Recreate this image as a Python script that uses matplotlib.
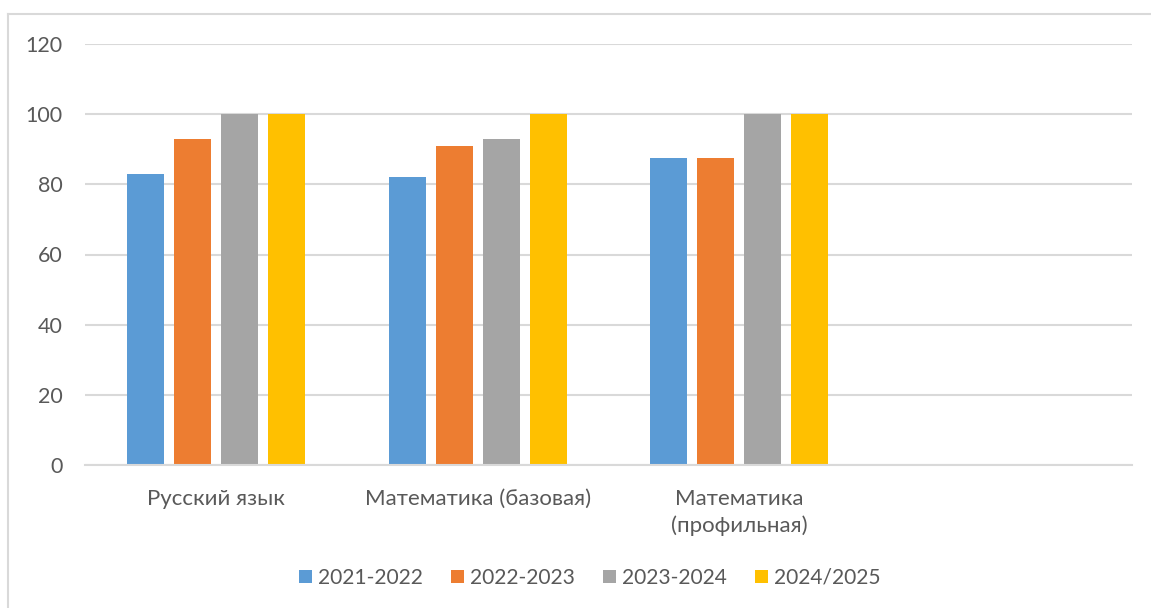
import matplotlib
matplotlib.use("Agg")
import matplotlib.pyplot as plt
import numpy as np
from matplotlib.lines import Line2D
from matplotlib.patches import Patch

categories = ['Русский язык', 'Математика (базовая)', 'Математика\n(профильная)', '']
series_names = ['2021-2022', '2022-2023', '2023-2024', '2024/2025']
v2021 = [83, 82, 87.5]
v2022 = [93, 91, 87.5]
v2023 = [100, 93, 100]
v2024 = [100, 100, 100]
yticks = [0, 20, 40, 60, 80, 100, 120]

colors = ['#5B9BD5', '#ED7D31', '#A5A5A5', '#FFC000']
series = [v2021, v2022, v2023, v2024]

plt.rcParams['font.family'] = ['Lato', 'DejaVu Sans']
W, H = 1151, 608
fig = plt.figure(figsize=(W / 100, H / 100), dpi=100)
ax = fig.add_axes([85 / W, 1 - 465 / H, (1132 - 85) / W, (465 - 44) / H])

bw = 0.141
step = 0.1794
x = np.arange(len(v2021))
for i, (vals, c, name) in enumerate(zip(series, colors, series_names)):
    ax.bar(x + (i - 1.5) * step, vals, width=bw, color=c, label=name, zorder=3)

ax.set_xlim(-0.5, len(categories) - 0.5)
ax.set_ylim(0, 120)
ax.set_yticks(yticks)
ax.set_xticks(np.arange(len(categories)))
ax.set_xticklabels(categories, linespacing=1.4, fontsize=16)
ax.yaxis.grid(True, color='#D9D9D9', linewidth=1.5, zorder=0)
ax.tick_params(axis='both', length=0, colors='#595959')
ax.tick_params(axis='y', labelsize=15.5, pad=16)
ax.tick_params(axis='x', pad=17)
for s in ['top', 'right', 'left']:
    ax.spines[s].set_visible(False)
ax.spines['bottom'].set_color('#D9D9D9')
ax.spines['bottom'].set_linewidth(1.5)
ax.spines['bottom'].set_zorder(4)

handles = [Patch(facecolor=c, edgecolor='none') for c in colors]
leg = fig.legend(handles, series_names, loc='center', bbox_to_anchor=(590 / W, 1 - 578 / H),
                 ncol=4, frameon=False, fontsize=15.1, handlelength=0.6, handleheight=0.6,
                 handletextpad=0.3, columnspacing=1.35, labelcolor='#595959')

# chart border
fig.add_artist(Line2D([8 / W, 1.0], [1 - 14 / H, 1 - 14 / H], color='#D9D9D9', linewidth=1.5,
                      transform=fig.transFigure))
fig.add_artist(Line2D([8 / W, 8 / W], [0, 1 - 14 / H], color='#D9D9D9', linewidth=1.5,
                      transform=fig.transFigure))

fig.savefig('out.png', dpi=100, facecolor='white')
